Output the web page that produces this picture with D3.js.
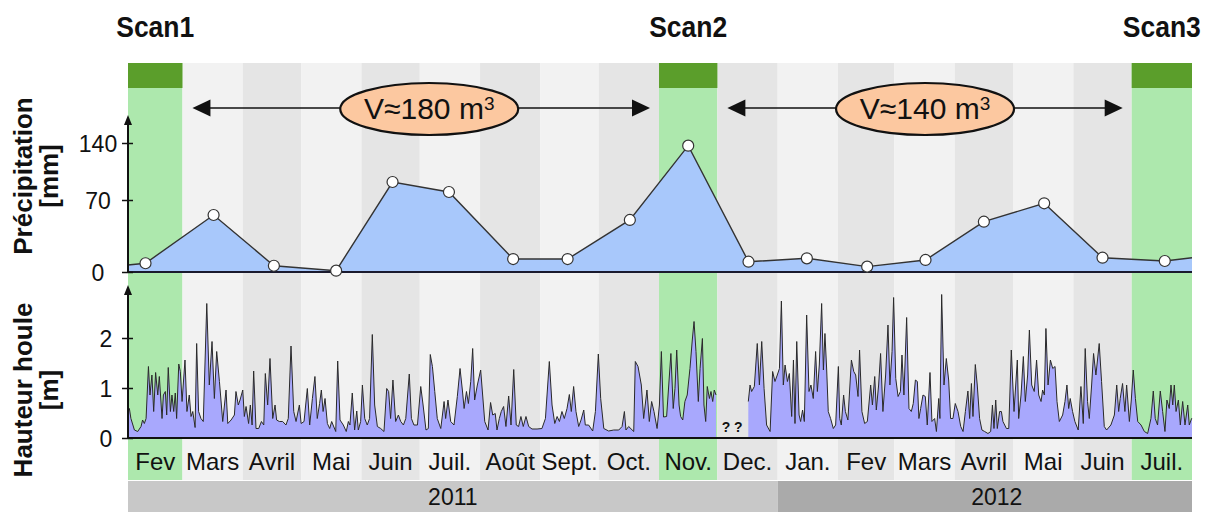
<!DOCTYPE html>
<html>
<head>
<meta charset="utf-8">
<script src="https://cdn.jsdelivr.net/npm/d3@7"></script>
<style>
body { margin: 0; background: #fff; }
svg { display: block; }
</style>
</head>
<body>
<div id="chart-area"></div>
<script>
var monthLabels = ['Fev', 'Mars', 'Avril', 'Mai', 'Juin', 'Juil.', 'Août', 'Sept.', 'Oct.', 'Nov.',
                   'Dec.', 'Jan.', 'Fev', 'Mars', 'Avril', 'Mai', 'Juin', 'Juil.']
var scanMonths = [0, 9, 17]
var scanLabels = ['Scan1', 'Scan2', 'Scan3']
var yearLabels = ['2011', '2012']
var volumeLabels = ['V\u2248180 m', 'V\u2248140 m']

// monthly precipitation (mm), first and last values are the edges of the plot
var precipDates = ['2011-02-01', '2011-02-10', '2011-03-17', '2011-04-17', '2011-05-19', '2011-06-17',
                   '2011-07-16', '2011-08-18', '2011-09-15', '2011-10-17', '2011-11-16', '2011-12-17',
                   '2012-01-16', '2012-02-16', '2012-03-17', '2012-04-16', '2012-05-17', '2012-06-16',
                   '2012-07-18', '2012-08-01']
var precipValues = [6.8, 8.5, 55.4, 6.1, 1.3, 92.1, 79.8, 12.6, 12.6, 50.6, 136.7, 10, 13.3, 5.2,
                    11.7, 48.9, 66.8, 13.9, 10.7, 13.9]
var precipTicks = [0, 70, 140]

// wave height (m), days since 1 Feb 2011 ; null = no data
var waveDays = [0, 0.7, 1.5, 3.3, 5.0, 6.7, 7.5, 8.4, 9.3, 10.5, 11.3, 12.3, 13.2, 14.2, 15.3, 16.1, 17.5, 18.2,
  19.2, 19.9, 20.7, 21.8, 22.6, 23.5, 24.3, 25.0, 26.1, 26.9, 27.8, 29.3, 30.3, 31.5, 32.4, 33.3, 34.5, 35.3,
  36.3, 37.5, 38.7, 40.5, 41.8, 43.2, 44.4, 45.6, 47.0, 48.7, 50.4, 51.3, 53.0, 54.7, 55.5, 56.7, 57.6, 59.0,
  59.8, 60.7, 62.0, 62.9, 63.8, 64.6, 65.8, 67.2, 68.6, 69.8, 70.6, 71.8, 73.0, 74.4, 75.6, 76.4, 77.8, 79.5,
  81.2, 82.4, 83.8, 85.2, 86.4, 88.1, 89.0,
  90.5, 92.2, 93.4, 94.8, 96.1, 97.3, 98.5, 99.4, 100.3, 101.3, 102.5, 103.7, 104.7, 106.8, 107.8, 109.0,
  110.7, 112.2, 113.3, 114.1, 115.3, 116.5, 117.6, 118.4, 119.6, 120.5, 121.7, 123.0, 124.2, 125.6, 126.8,
  128.2, 129.9, 131.6, 133.0, 134.0, 135.0, 136.2, 137.6, 139.0, 140.2, 141.6, 142.8, 144.6, 145.7, 147.0,
  148.8, 150.5, 151.7, 153.2, 154.4, 155.4, 156.5, 157.7, 159.0, 160.8, 162.5, 163.3, 164.5, 165.9, 167.6,
  169.3, 170.7, 171.9, 172.8, 174.0, 175.0, 176.2, 177.2, 178.2, 179.6, 181.3,
  183.4, 185.1, 186.4, 187.5, 188.8, 189.7, 190.9, 191.9, 193.1, 194.3, 195.7, 196.9, 198.3, 199.6, 200.8,
  202.0, 203.2, 204.6, 206.0, 207.7, 210.3, 212.8, 214.6, 216.6, 218.0, 219.4, 220.6, 221.8, 223.1, 224.3,
  225.7, 226.9, 227.9, 229.1, 230.3, 231.7, 232.9, 234.3, 235.1, 236.8, 238.9, 240.3, 241.8, 243.0, 244.6,
  247.1, 249.7, 252.3, 254.0, 255.2, 256.0, 257.4, 260.0, 260.8, 262.2, 263.9, 265.1, 266.8, 268.0, 269.2,
  270.4, 272.0, 273.2, 274.2,
  275.3, 276.9, 279.1, 280.3, 281.2, 282.1, 283.3, 284.1, 285.2, 286.3, 287.5, 288.9, 290.1, 291.0, 292.0,
  293.2, 294.1, 295.3, 296.1, 297.0, 297.8, 298.9, 299.7, 300.6, 301.4, 302.3,
  310,
  318.9, 319.8, 320.6, 322.0, 323.5, 324.6, 325.8, 327.0, 328.3, 330.1, 331.4, 332.6, 333.8, 334.9, 335.9,
  336.9, 337.8, 339.0, 340.0, 341.2, 342.1, 342.9, 343.8, 345.0, 345.8, 346.8, 347.7, 348.9, 350.1, 351.1,
  352.3, 353.5, 354.4, 355.4, 356.6, 357.5, 358.3, 359.2, 360.0, 361.2, 362.6, 363.8, 365.2,
  365.9, 366.7, 367.9, 368.8, 370.1, 371.9, 373.1, 374.1, 375.3, 376.1, 377.3, 378.7, 380.1, 381.8, 382.7,
  383.9, 384.7, 385.9, 386.9, 388.1, 389.5, 390.7, 391.7, 392.8, 393.6, 394.7, 395.9, 397.1, 397.9, 398.9,
  400.3, 401.5, 402.7, 403.7, 404.8, 405.8, 406.6, 407.5, 408.7, 409.9, 410.9, 412.3, 413.3, 414.7, 415.6,
  416.8, 417.4, 418.3, 419.5, 420.7, 421.9, 422.9, 424.1, 425.3, 426.7, 428.1, 429.3, 430.5, 431.8, 432.7,
  433.6, 434.4, 435.6, 436.6, 437.8, 439.0, 440.4, 442.1, 443.5, 444.4, 445.2, 446.1, 446.9, 448.1, 449.0,
  449.8, 451.6, 452.8, 454.1, 455.5, 457.2,
  457.9, 459.1, 460.3, 461.3, 462.5, 463.4, 464.6, 465.9, 467.1, 468.2, 469.4, 470.2, 471.1, 471.9, 473.0,
  474.2, 475.4, 476.6, 477.6, 478.8, 480.5, 481.7, 482.7, 483.6, 484.4, 485.6, 486.8, 488.5, 489.9, 491.1,
  492.1, 493.3, 494.2, 495.4, 496.4, 497.6, 499.3, 500.5, 501.9, 503.1, 505.3, 507.1, 508.3, 509.3, 510.1,
  511.3, 512.5, 513.4, 514.8, 515.8, 516.8, 517.9, 519.1, 520.8, 522.5, 524.2, 525.9, 527.1, 528.1, 529.3,
  530.7, 531.9, 533.1, 534.1, 535.3, 536.2, 537.1, 537.9, 538.8, 540.0, 541.0, 542.2, 543.4, 544.8, 545.6,
  546.8, 547]
var waveHeights = [0.55, 0.59, 0.39, 0.16, 0.13, 0.23, 0.36, 0.29, 0.39, 1.43, 0.86, 1.26, 0.53, 1.31, 0.86, 1.23, 0.39, 0.86,
  0.93, 0.46, 1.41, 0.53, 0.86, 0.53, 0.90, 0.39, 1.48, 1.33, 0.73, 1.56, 0.53, 0.86, 0.43, 0.53, 0.21, 1.89,
  0.53, 0.39, 0.33, 2.69, 1.06, 1.93, 0.79, 1.73, 1.13, 0.33, 0.96, 0.29, 0.36, 0.46, 0.93, 0.66, 0.76, 0.96,
  0.43, 0.63, 0.29, 0.66, 0.26, 1.34, 0.19, 0.19, 0.33, 0.26, 1.29, 0.66, 1.59, 0.39, 0.66, 0.36, 0.33, 0.33,
  0.26, 0.39, 1.84, 0.53, 0.33, 0.66, 0.29,
  0.33, 0.99, 0.26, 0.79, 1.23, 0.39, 0.69, 0.96, 0.53, 0.79, 0.29, 0.19, 0.33, 0.13, 1.54, 0.36,
  0.26, 0.13, 0.33, 0.26, 0.90, 0.16, 0.54, 0.16, 0.33, 1.06, 0.39, 0.26, 0.39, 2.07, 0.66,
  0.23, 0.19, 0.13, 0.99, 0.93, 0.39, 1.16, 0.33, 0.46, 0.33, 0.26, 0.39, 1.28, 0.39, 0.26,
  0.26, 1.03, 0.66, 0.16, 0.19, 1.67, 1.43, 0.93, 0.39, 0.19, 0.73, 0.39, 0.76, 0.33, 0.26,
  0.83, 1.39, 0.96, 0.59, 0.93, 0.69, 1.13, 1.79, 0.76, 1.06, 1.36,
  0.33, 0.16, 0.71, 0.46, 0.49, 0.16, 0.39, 0.53, 0.63, 0.23, 0.84, 0.26, 1.37, 0.26, 0.23,
  0.43, 0.23, 0.43, 0.23, 0.18, 0.18, 0.19, 0.39, 1.53, 0.66, 0.29, 0.43, 0.33, 0.53, 0.39,
  0.59, 0.87, 0.53, 1.03, 0.53, 0.23, 0.36, 0.56, 0.26, 0.26, 0.14, 0.53, 1.68, 0.79, 0.19,
  0.14, 0.16, 0.16, 0.23, 0.53, 0.16, 0.23, 0.13, 1.53, 1.43, 1.06, 0.39, 0.96, 0.33, 0.73,
  0.53, 0.19, 0.66, 1.73,
  0.42, 0.43, 1.69, 0.59, 0.99, 1.76, 0.66, 0.43, 0.36, 0.73, 0.86, 1.39, 1.96, 2.33, 1.73,
  0.73, 1.39, 1.99, 0.66, 0.33, 1.03, 0.79, 0.93, 0.73, 0.96, 0.86,
  null,
  0.73, 1.06, 0.93, 1.03, 1.89, 1.06, 1.93, 0.99, 0.26, 0.13, 1.33, 1.13, 1.26, 1.39, 2.74,
  1.06, 1.46, 1.13, 1.29, 0.43, 1.56, 0.29, 1.93, 0.46, 0.33, 0.56, 0.33, 2.46, 0.93, 1.06,
  0.79, 1.73, 0.93, 1.46, 2.69, 1.36, 2.09, 1.36, 0.53, 0.39, 0.19, 0.26, 1.43,
  0.39, 0.26, 0.86, 0.53, 0.36, 1.56, 1.33, 1.26, 0.83, 1.76, 0.53, 0.29, 0.33, 1.06, 0.66,
  1.23, 0.56, 1.06, 1.69, 0.53, 1.26, 2.26, 1.06, 1.73, 2.81, 1.19, 0.83, 0.93, 1.66, 0.86,
  2.41, 0.59, 0.53, 0.69, 1.16, 1.13, 0.39, 0.59, 0.86, 0.83, 0.26, 1.31, 0.33, 0.39, 0.13,
  0.79, 0.39, 2.87, 1.06, 1.59, 1.16, 0.39, 0.39, 0.69, 0.53, 0.23, 0.13, 0.53, 0.94, 0.39,
  1.09, 0.43, 1.47, 1.06, 0.39, 0.16, 0.13, 0.09, 0.13, 0.66, 0.19, 0.76, 0.19, 0.53, 0.53,
  0.33, 0.19, 0.19, 1.76, 0.53, 1.56,
  0.39, 0.86, 1.63, 0.73, 1.26, 2.16, 1.06, 0.93, 1.56, 0.86, 0.73, 0.96, 0.86, 2.19, 1.06,
  1.56, 1.39, 1.43, 0.73, 0.33, 0.46, 0.73, 1.06, 0.59, 0.79, 0.53, 0.33, 0.16, 1.03, 0.29,
  1.79, 0.73, 0.39, 1.06, 1.69, 1.26, 1.89, 1.13, 0.23, 0.16, 0.26, 0.46, 1.06, 0.53, 0.79,
  1.09, 0.53, 1.06, 0.33, 0.76, 1.36, 0.79, 0.33, 0.26, 0.13, 0.09, 0.39, 0.94, 0.39, 0.26,
  0.94, 0.53, 0.13, 0.76, 0.59, 1.06, 0.66, 1.06, 0.53, 0.76, 0.26, 0.73, 0.26, 0.66, 0.26,
  0.39, 0.40]
var waveTicks = [0, 1, 2]

var font = "'Liberation Sans', Arial, sans-serif"
var startDate = new Date(Date.UTC(2011, 1, 1))
var endDate = new Date(Date.UTC(2012, 7, 1))
var yearSplit = new Date(Date.UTC(2012, 0, 1))

var svg = d3.select("#chart-area").append("svg")
    .attr("width", 1212)
    .attr("height", 512)
    .style("font-family", font)

var xScale = d3.scaleUtc()
    .domain([startDate, endDate])
    .range([128, 1192])

// precipitation axis is not evenly spaced in the original
var yPrecip = d3.scaleLinear()
    .domain([0, 70, 140])
    .range([272, 200, 143])

var yWave = d3.scaleLinear()
    .domain([0, 2])
    .range([438, 338])

var stripeTop = 63, stripeBottom = 480

// month columns
var months = d3.utcMonth.range(startDate, endDate)
var monthData = months.map(function(m, i) {
    return { start: m, end: d3.utcMonth.offset(m, 1), label: monthLabels[i], i: i,
             scan: scanMonths.indexOf(i) }
})

svg.selectAll(".stripe").data(monthData).enter()
    .append("rect")
    .attr("class", "stripe")
    .attr("x", function(d) { return xScale(d.start) })
    .attr("y", stripeTop)
    .attr("width", function(d) { return xScale(d.end) - xScale(d.start) })
    .attr("height", stripeBottom - stripeTop)
    .attr("fill", function(d) {
        if (d.scan >= 0) return "#ade8ad"
        return d.i % 2 == 1 ? "#f2f2f2" : "#e5e5e5"
    })

var scanData = monthData.filter(function(d) { return d.scan >= 0 })

svg.selectAll(".scanBand").data(scanData).enter()
    .append("rect")
    .attr("x", function(d) { return xScale(d.start) })
    .attr("y", stripeTop)
    .attr("width", function(d) { return xScale(d.end) - xScale(d.start) })
    .attr("height", 25)
    .attr("fill", "#5b9e2b")

svg.selectAll(".scanLabel").data(scanData).enter()
    .append("text")
    .attr("x", function(d) { return (xScale(d.start) + xScale(d.end)) / 2 })
    .attr("y", 37)
    .attr("text-anchor", "middle")
    .attr("textLength", 78)
    .attr("lengthAdjust", "spacingAndGlyphs")
    .style("font-size", "30px")
    .style("font-weight", "bold")
    .style("fill", "#111")
    .text(function(d) { return scanLabels[d.scan] })

// month labels
svg.selectAll(".monthLabel").data(monthData).enter()
    .append("text")
    .attr("x", function(d) { return (xScale(d.start) + xScale(d.end)) / 2 })
    .attr("y", 470)
    .attr("text-anchor", "middle")
    .style("font-size", "24px")
    .style("fill", "#111")
    .text(function(d) { return d.label })

// year bars
var yearData = [
    { start: startDate, end: yearSplit, label: yearLabels[0], fill: "#c8c8c8", shift: 0 },
    { start: yearSplit, end: endDate, label: yearLabels[1], fill: "#aaaaaa", shift: 12 }
]
svg.selectAll(".yearBar").data(yearData).enter()
    .append("rect")
    .attr("x", function(d) { return xScale(d.start) })
    .attr("y", 481)
    .attr("width", function(d) { return xScale(d.end) - xScale(d.start) })
    .attr("height", 31)
    .attr("fill", function(d) { return d.fill })
svg.selectAll(".yearLabel").data(yearData).enter()
    .append("text")
    .attr("x", function(d) { return (xScale(d.start) + xScale(d.end)) / 2 + d.shift })
    .attr("y", 505)
    .attr("text-anchor", "middle")
    .style("font-size", "23px")
    .style("fill", "#111")
    .text(function(d) { return d.label })

// precipitation
var precip = precipDates.map(function(s, i) {
    return { date: new Date(s + "T00:00:00Z"), v: precipValues[i] }
})

svg.append("path")
    .datum(precip)
    .attr("fill", "#a8c8fb")
    .attr("d", d3.area()
        .x(function(d) { return xScale(d.date) })
        .y0(yPrecip(0))
        .y1(function(d) { return yPrecip(d.v) }))

svg.append("path")
    .datum(precip)
    .attr("fill", "none")
    .attr("stroke", "#333")
    .attr("stroke-width", 1.4)
    .attr("d", d3.line()
        .x(function(d) { return xScale(d.date) })
        .y(function(d) { return yPrecip(d.v) }))

// wave height
var wave = waveDays.map(function(d, i) {
    return { date: new Date(startDate.getTime() + d * 864e5), h: waveHeights[i] }
})

svg.append("path")
    .datum(wave)
    .attr("fill", "#a8a8fd")
    .attr("d", d3.area()
        .defined(function(d) { return d.h != null })
        .x(function(d) { return xScale(d.date) })
        .y0(yWave(0))
        .y1(function(d) { return yWave(d.h) }))

svg.append("path")
    .datum(wave)
    .attr("fill", "none")
    .attr("stroke", "#2a2a2a")
    .attr("stroke-width", 1)
    .attr("stroke-linejoin", "round")
    .attr("d", d3.line()
        .defined(function(d) { return d.h != null })
        .x(function(d) { return xScale(d.date) })
        .y(function(d) { return yWave(d.h) }))

// no data in december
var gapIndex = waveHeights.indexOf(null)
svg.append("text")
    .attr("x", (xScale(wave[gapIndex - 1].date) + xScale(wave[gapIndex + 1].date)) / 2)
    .attr("y", 432)
    .attr("text-anchor", "middle")
    .style("font-size", "14px")
    .style("font-weight", "bold")
    .style("fill", "#111")
    .text("? ?")

// baselines
svg.append("line")
    .attr("x1", 128).attr("x2", 1192)
    .attr("y1", yPrecip(0)).attr("y2", yPrecip(0))
    .attr("stroke", "#1a1a2e").attr("stroke-width", 2)
svg.append("line")
    .attr("x1", 128).attr("x2", 1192)
    .attr("y1", yWave(0)).attr("y2", yWave(0))
    .attr("stroke", "#111").attr("stroke-width", 2)

// markers
svg.selectAll(".precipPoint").data(precip.slice(1, precip.length - 1)).enter()
    .append("circle")
    .attr("cx", function(d) { return xScale(d.date) })
    .attr("cy", function(d) { return yPrecip(d.v) })
    .attr("r", 5.5)
    .attr("fill", "#fff")
    .attr("stroke", "#333")
    .attr("stroke-width", 1.2)

// y axes with arrow
function drawAxis(scale, ticks, top, labelX) {
    var axisG = svg.append("g")
        .attr("transform", "translate(128,0)")
        .call(d3.axisLeft(scale).tickValues(ticks).tickSize(6).tickFormat(d3.format("d")))
    axisG.select(".domain").remove()
    axisG.selectAll(".tick line")
        .attr("x1", 5).attr("x2", -6)
        .attr("stroke", "#111").attr("stroke-width", 1.5)
    axisG.selectAll(".tick text")
        .attr("x", labelX - 128)
        .attr("text-anchor", "middle")
        .attr("dy", "0.36em")
        .style("font-size", "23px")
        .style("font-family", font)
        .style("fill", "#111")
    svg.append("line")
        .attr("x1", 128).attr("x2", 128)
        .attr("y1", scale(0)).attr("y2", top + 6)
        .attr("stroke", "#111").attr("stroke-width", 2)
    svg.append("path")
        .attr("d", "M128," + top + "L132," + (top + 10) + "L124," + (top + 10) + "Z")
        .attr("fill", "#111")
}
drawAxis(yPrecip, precipTicks, 115, 98)
drawAxis(yWave, waveTicks, 285, 106)

// axis titles
function axisTitle(lines, cy) {
    svg.append("text")
        .attr("transform", "translate(32," + cy + ") rotate(-90)")
        .attr("text-anchor", "middle")
        .style("font-size", "26px")
        .style("font-weight", "bold")
        .style("fill", "#111")
        .text(lines[0])
    svg.append("text")
        .attr("transform", "translate(58," + cy + ") rotate(-90)")
        .attr("text-anchor", "middle")
        .style("font-size", "26px")
        .style("font-weight", "bold")
        .style("fill", "#111")
        .text(lines[1])
}
axisTitle(["Précipitation", "[mm]"], 176)
axisTitle(["Hauteur houle", "[m]"], 390)

// volume arrows between scans
var arrowY = 108
var spans = [
    { from: scanData[0].end, to: scanData[1].start, label: volumeLabels[0], shift: 8 },
    { from: scanData[1].end, to: scanData[2].start, label: volumeLabels[1], shift: 0 }
]
spans.forEach(function(s) {
    var xa = xScale(s.from) + 10, xb = xScale(s.to) - 9
    svg.append("line")
        .attr("x1", xa + 10).attr("x2", xb - 10)
        .attr("y1", arrowY).attr("y2", arrowY)
        .attr("stroke", "#111").attr("stroke-width", 1.5)
    svg.append("path")
        .attr("d", "M" + xa + "," + arrowY + "L" + (xa + 18) + "," + (arrowY - 8.5) + "L" + (xa + 18) + "," + (arrowY + 8.5) + "Z")
        .attr("fill", "#111")
    svg.append("path")
        .attr("d", "M" + xb + "," + arrowY + "L" + (xb - 18) + "," + (arrowY - 8.5) + "L" + (xb - 18) + "," + (arrowY + 8.5) + "Z")
        .attr("fill", "#111")
    var cx = (xa + xb) / 2 + s.shift
    svg.append("ellipse")
        .attr("cx", cx).attr("cy", arrowY + 1)
        .attr("rx", 89).attr("ry", 26)
        .attr("fill", "#fcc8a0")
        .attr("stroke", "#111")
        .attr("stroke-width", 2.2)
    var t = svg.append("text")
        .attr("x", cx)
        .attr("y", arrowY + 11)
        .attr("text-anchor", "middle")
        .style("font-size", "30px")
        .style("fill", "#111")
    t.append("tspan").text(s.label)
    t.append("tspan").attr("dy", -9).style("font-size", "19px").text("3")
})
</script>
</body>
</html>
